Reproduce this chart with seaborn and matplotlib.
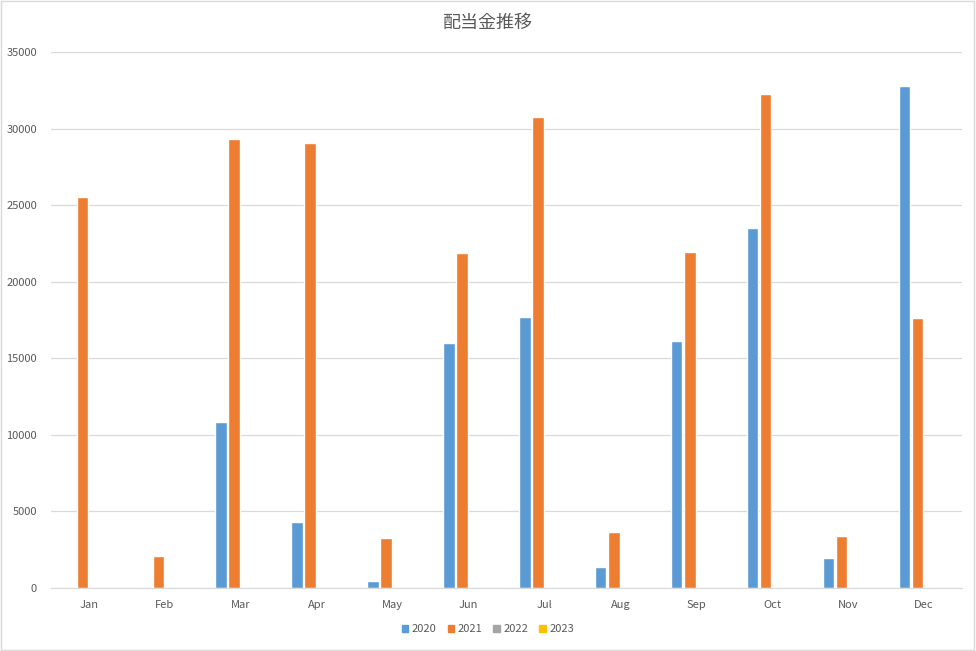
import matplotlib.pyplot as plt
import matplotlib.patches as mpatches
import pandas as pd
import seaborn as sns

# monthly dividends per year
months = ['Jan', 'Feb', 'Mar', 'Apr', 'May', 'Jun', 'Jul', 'Aug', 'Sep', 'Oct', 'Nov', 'Dec']
years = ['2020', '2021', '2022', '2023']
div_2020 = [0, 0, 10850, 4300, 450, 16000, 17700, 1380, 16130, 23520, 1960, 32800]
div_2021 = [25550, 2100, 29330, 29070, 3270, 21880, 30760, 3660, 21950, 32270, 3400, 17650]
div_2022 = [0] * 12
div_2023 = [0] * 12
colors = ['#5b9bd5', '#ed7d31', '#a5a5a5', '#ffc000']

df = pd.DataFrame({'month': months * 4,
                   'year': [y for y in years for _ in months],
                   'value': div_2020 + div_2021 + div_2022 + div_2023})

sns.set_style('white')
plt.rcParams['font.family'] = ['Noto Sans CJK JP', 'DejaVu Sans']

fig = plt.figure(figsize=(9.76, 6.51), dpi=100)
ax = fig.add_axes([51 / 976, 1 - 588 / 651, 911 / 976, 536 / 651])

sns.barplot(data=df, x='month', y='value', hue='year', order=months, hue_order=years,
            palette=colors, width=0.69, gap=0.12, saturation=1, legend=False, ax=ax)

ax.set_xlim(-0.5, 11.5)
ax.set_ylim(0, 35000)
ax.set_yticks(range(0, 35001, 5000))
ax.yaxis.grid(True, color='#d9d9d9', linewidth=0.9)
ax.set_axisbelow(True)
for s in ['top', 'right', 'left']:
    ax.spines[s].set_visible(False)
ax.spines['bottom'].set_color('#d9d9d9')
ax.tick_params(axis='both', length=0, labelsize=8, colors='#595959')
ax.tick_params(axis='x', pad=9)
ax.tick_params(axis='y', pad=10)
ax.set_xlabel('')
ax.set_ylabel('')

fig.suptitle('配当金推移', y=0.978, fontsize=13, color='#595959')

handles = [mpatches.Patch(color=c, label=y) for c, y in zip(colors, years)]
leg = fig.legend(handles=handles, loc='center', bbox_to_anchor=(0.5, 1 - 629 / 651), ncol=4,
                 frameon=False, fontsize=8, handlelength=0.6, handleheight=0.6,
                 handletextpad=0.3, columnspacing=1.0)
for t in leg.get_texts():
    t.set_color('#595959')

# outer chart border
fig.patches.append(mpatches.Rectangle((0.001, 0.001), 0.997, 0.997, transform=fig.transFigure,
                                      fill=False, edgecolor='#d9d9d9', linewidth=1))

fig.savefig('out.png', dpi=100)
